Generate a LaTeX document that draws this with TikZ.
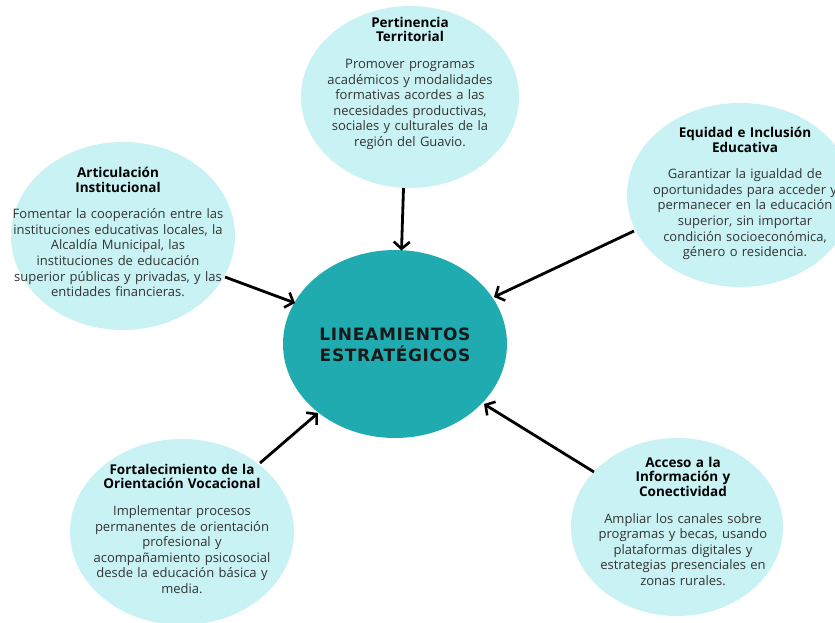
\documentclass[tikz,border=0pt]{standalone}
\usepackage{fontspec}
\setmainfont{Open Sans}
\newfontfamily\centerfont[LetterSpace=4]{DejaVu Sans}
\usetikzlibrary{arrows.meta,shapes.geometric}
\definecolor{lightcy}{HTML}{C8F2F4}
\definecolor{tealc}{HTML}{20ABB0}
\definecolor{bodytxt}{HTML}{333333}
\tikzset{
  outer/.style={ellipse, fill=lightcy, draw=none, inner sep=0pt},
  core/.style={ellipse, fill=tealc, draw=none, inner sep=0pt},
  txt/.style={align=center, text width=260pt, text=bodytxt, font=\fontsize{13}{15.6}\selectfont, inner sep=0pt},
  conn/.style={line width=2.8pt, black, -{Straight Barb[length=7pt,width=16pt,line width=2.6pt]}},
}
\newcommand{\ttl}[1]{{\color{black}\bfseries\fontsize{13.5}{14.5}\selectfont #1\par}\vspace{11pt}}
\begin{document}
\begin{tikzpicture}[x=1pt,y=-1pt]
\useasboundingbox (0,0) rectangle (835,623);
\fill[white] (0,0) rectangle (835,623);
% ellipses
\node[core, minimum width=224pt, minimum height=188pt] (c) at (395,344) {};
\node[outer, minimum width=218pt, minimum height=182pt] (top) at (410,97) {};
\node[outer, minimum width=226pt, minimum height=184pt] (eq) at (740,195) {};
\node[outer, minimum width=224pt, minimum height=188pt] (art) at (123,236) {};
\node[outer, minimum width=224pt, minimum height=186pt] (fort) at (182,532) {};
\node[outer, minimum width=212pt, minimum height=178pt] (acc) at (677,527) {};
% texts
\node[font=\centerfont\bfseries\fontsize{17}{21.5}\selectfont, align=center, text=black!90, inner sep=0pt] (ct) at (395,345) {LINEAMIENTOS\\ESTRATÉGICOS};
\node[txt, anchor=north] (ttop) at (410,17) {\ttl{Pertinencia\\Territorial}Promover programas\\académicos y modalidades\\formativas acordes a las\\necesidades productivas,\\sociales y culturales de la\\región del Guavio.};
\node[txt, anchor=north] (teq) at (745,127) {\ttl{Equidad e Inclusión\\Educativa}Garantizar la igualdad de\\oportunidades para acceder y\\permanecer en la educación\\superior, sin importar\\condición socioeconómica,\\género o residencia.};
\node[txt, anchor=north] (tart) at (118,167) {\ttl{Articulación\\Institucional}Fomentar la cooperación entre las\\instituciones educativas locales, la\\Alcaldía Municipal, las\\instituciones de educación\\superior públicas y privadas, y las\\entidades financieras.};
\node[txt, anchor=north] (tfort) at (182,464) {\ttl{Fortalecimiento de la\\Orientación Vocacional}Implementar procesos\\permanentes de orientación\\profesional y\\acompañamiento psicosocial\\desde la educación básica y\\media.};
\node[txt, anchor=north] (tacc) at (683,457) {\ttl{Acceso a la\\Información y\\Conectividad}Ampliar los canales sobre\\programas y becas, usando\\plataformas digitales y\\estrategias presenciales en\\zonas rurales.};
% connector endpoints
\coordinate (s1) at (403.5,188); \coordinate (e1) at (401.5,250.5);
\coordinate (s2) at (225,277); \coordinate (e2) at (295,303);
\coordinate (s3) at (634,231); \coordinate (e3) at (494,297);
\coordinate (s4) at (260,463); \coordinate (e4) at (318,413);
\coordinate (s5) at (594,472); \coordinate (e5) at (484,404);
\draw[conn] (s1) -- (e1);
\draw[conn] (s2) -- (e2);
\draw[conn] (s3) -- (e3);
\draw[conn] (s4) -- (e4);
\draw[conn] (s5) -- (e5);
\end{tikzpicture}
\end{document}
